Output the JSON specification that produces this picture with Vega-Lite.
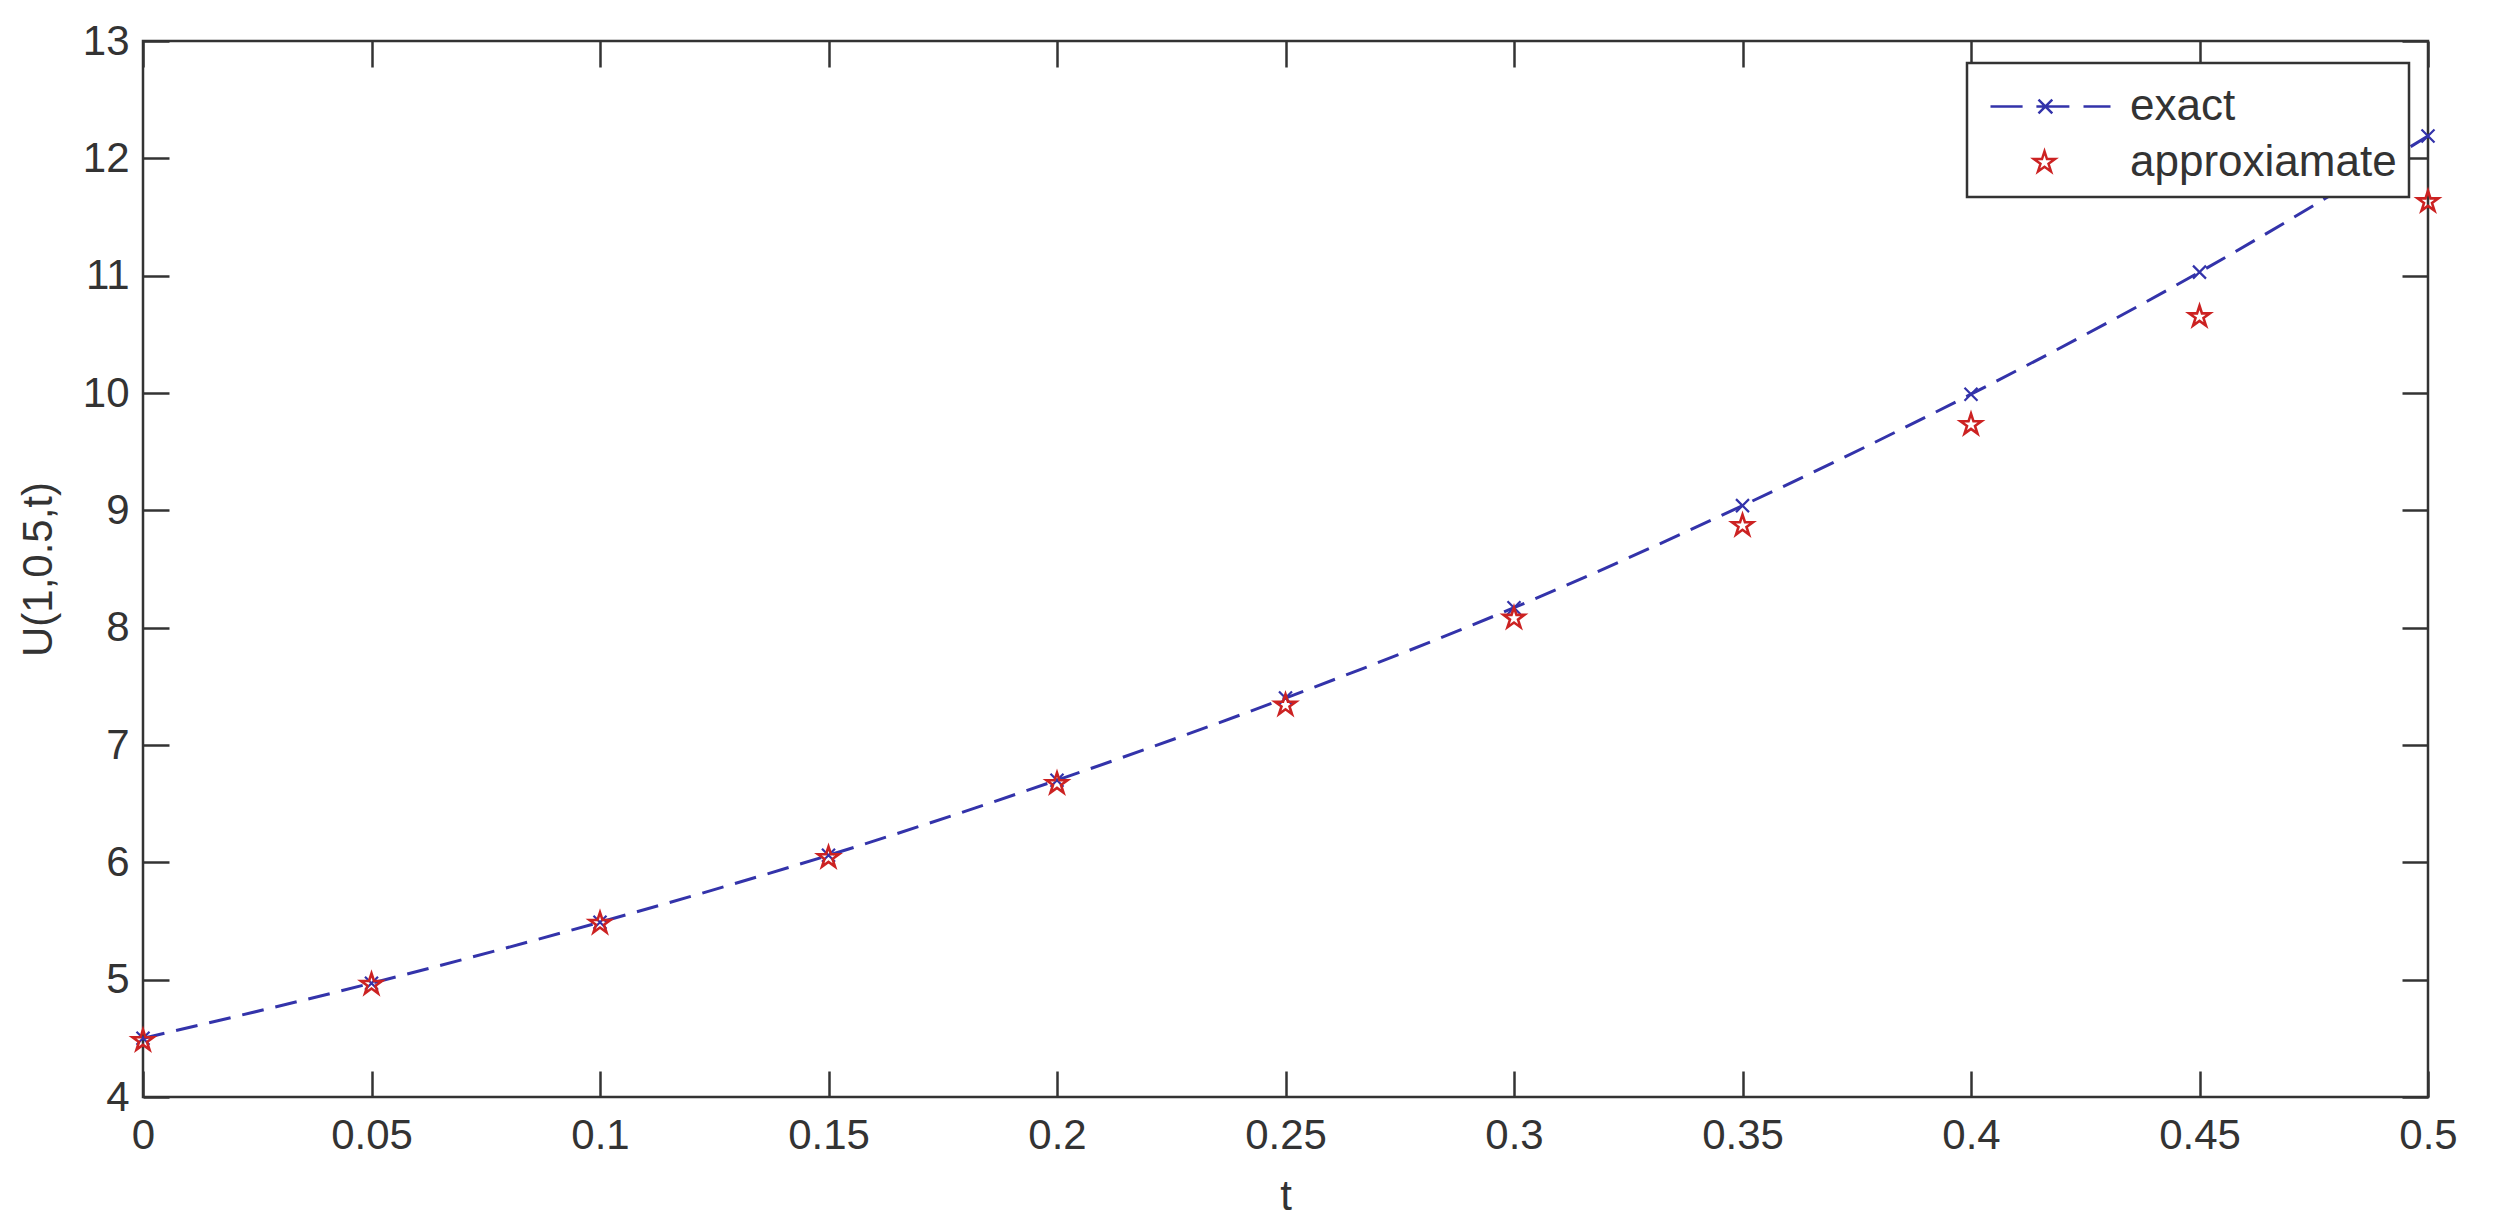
{
  "$schema": "https://vega.github.io/schema/vega-lite/v6.json",
  "autosize": {"type": "none"},
  "width": 2285,
  "height": 1056,
  "padding": {"left": 143, "top": 41, "right": 82, "bottom": 126},
  "background": "white",
  "config": {
    "view": {"stroke": "#333333", "strokeWidth": 2.5},
    "legend": {"strokeWidth": 2.5},
    "axis": {
      "grid": false,
      "domain": false,
      "tickSize": -26,
      "tickWidth": 2.5,
      "tickColor": "#333333",
      "labelFont": "Liberation Sans",
      "labelFontSize": 42,
      "labelColor": "#333333",
      "titleFont": "Liberation Sans",
      "titleFontSize": 42,
      "titleFontWeight": "normal",
      "titleColor": "#333333"
    }
  },
  "data": {
    "values": [
      {"t": 0.00, "series": "exact", "u": 4.50},
      {"t": 0.05, "series": "exact", "u": 4.97},
      {"t": 0.10, "series": "exact", "u": 5.49},
      {"t": 0.15, "series": "exact", "u": 6.06},
      {"t": 0.20, "series": "exact", "u": 6.70},
      {"t": 0.25, "series": "exact", "u": 7.40},
      {"t": 0.30, "series": "exact", "u": 8.17},
      {"t": 0.35, "series": "exact", "u": 9.04},
      {"t": 0.40, "series": "exact", "u": 9.99},
      {"t": 0.45, "series": "exact", "u": 11.03},
      {"t": 0.50, "series": "exact", "u": 12.19},
      {"t": 0.00, "series": "approxiamate", "u": 4.48},
      {"t": 0.05, "series": "approxiamate", "u": 4.96},
      {"t": 0.10, "series": "approxiamate", "u": 5.48},
      {"t": 0.15, "series": "approxiamate", "u": 6.04},
      {"t": 0.20, "series": "approxiamate", "u": 6.67},
      {"t": 0.25, "series": "approxiamate", "u": 7.34},
      {"t": 0.30, "series": "approxiamate", "u": 8.08},
      {"t": 0.35, "series": "approxiamate", "u": 8.87},
      {"t": 0.40, "series": "approxiamate", "u": 9.73},
      {"t": 0.45, "series": "approxiamate", "u": 10.65},
      {"t": 0.50, "series": "approxiamate", "u": 11.63}
    ]
  },
  "resolve": {"axis": {"x": "independent", "y": "independent"}},
  "layer": [
    {
      "transform": [{"filter": "datum.series === 'exact'"}],
      "mark": {"type": "line", "color": "#3333aa", "strokeWidth": 3, "strokeDash": [22, 12], "interpolate": "monotone"},
      "encoding": {
        "x": {"field": "t", "type": "quantitative", "scale": {"domain": [0, 0.5], "nice": false, "zero": false},
          "axis": {"orient": "bottom", "title": "t", "values": [0, 0.05, 0.1, 0.15, 0.2, 0.25, 0.3, 0.35, 0.4, 0.45, 0.5], "format": "~g", "labelPadding": 44, "titlePadding": 20, "labelFlush": false}},
        "y": {"field": "u", "type": "quantitative", "scale": {"domain": [4, 13], "nice": false, "zero": false},
          "axis": {"orient": "left", "title": "U(1,0.5,t)", "values": [4, 5, 6, 7, 8, 9, 10, 11, 12, 13], "labelPadding": 40, "titlePadding": 22, "labelFlush": false}}
      }
    },
    {
      "transform": [{"filter": "datum.series === 'exact'"}],
      "mark": {"type": "point", "shape": "M-1,-1L1,1M-1,1L1,-1", "size": 169, "filled": false, "color": "#3333aa", "strokeWidth": 2.2, "opacity": 1},
      "encoding": {
        "x": {"field": "t", "type": "quantitative", "axis": {"orient": "top", "labels": false, "title": null, "values": [0, 0.05, 0.1, 0.15, 0.2, 0.25, 0.3, 0.35, 0.4, 0.45, 0.5]}},
        "y": {"field": "u", "type": "quantitative", "axis": {"orient": "right", "labels": false, "title": null, "values": [4, 5, 6, 7, 8, 9, 10, 11, 12, 13]}}
      }
    },
    {
      "transform": [{"filter": "datum.series === 'approxiamate'"}],
      "mark": {"type": "point", "shape": "M0,-1L0.225,-0.309L0.951,-0.309L0.363,0.118L0.588,0.809L0,0.382L-0.588,0.809L-0.363,0.118L-0.951,-0.309L-0.225,-0.309Z", "size": 484, "filled": false, "color": "#cc2222", "strokeWidth": 2.6, "opacity": 1},
      "encoding": {
        "x": {"field": "t", "type": "quantitative", "axis": null},
        "y": {"field": "u", "type": "quantitative", "axis": null}
      }
    },
    {
      "mark": {"type": "point", "filled": false, "opacity": 0, "strokeWidth": 2.5},
      "encoding": {
        "x": {"field": "t", "type": "quantitative", "axis": null},
        "y": {"field": "u", "type": "quantitative", "axis": null},
        "color": {"field": "series", "type": "nominal",
          "scale": {"domain": ["exact", "approxiamate"], "range": ["#3333aa", "#cc2222"]},
          "legend": {
            "orient": "none", "legendX": 1824, "legendY": 22, "title": null,
            "fillColor": "white", "strokeColor": "#333333",
            "padding": 12, "rowPadding": 2,
            "symbolSize": 3600, "symbolStrokeWidth": 2.5, "symbolOffset": 40,
            "labelOffset": 48, "labelFontSize": 44, "labelFont": "Liberation Sans", "labelColor": "#333333", "labelLimit": 400
          }},
        "shape": {"field": "series", "type": "nominal",
          "scale": {"domain": ["exact", "approxiamate"], "range": [
            "M-2,0H-0.93M-0.47,0H0.63M1.1,0H2M-0.4,-0.23L0.06,0.23M-0.4,0.23L0.06,-0.23",
            "M-0.2,-0.37L-0.117,-0.114L0.152,-0.114L-0.066,0.044L0.017,0.299L-0.2,0.141L-0.417,0.299L-0.334,0.044L-0.552,-0.114L-0.283,-0.114Z"
          ]},
          "legend": null}
      }
    }
  ]
}
